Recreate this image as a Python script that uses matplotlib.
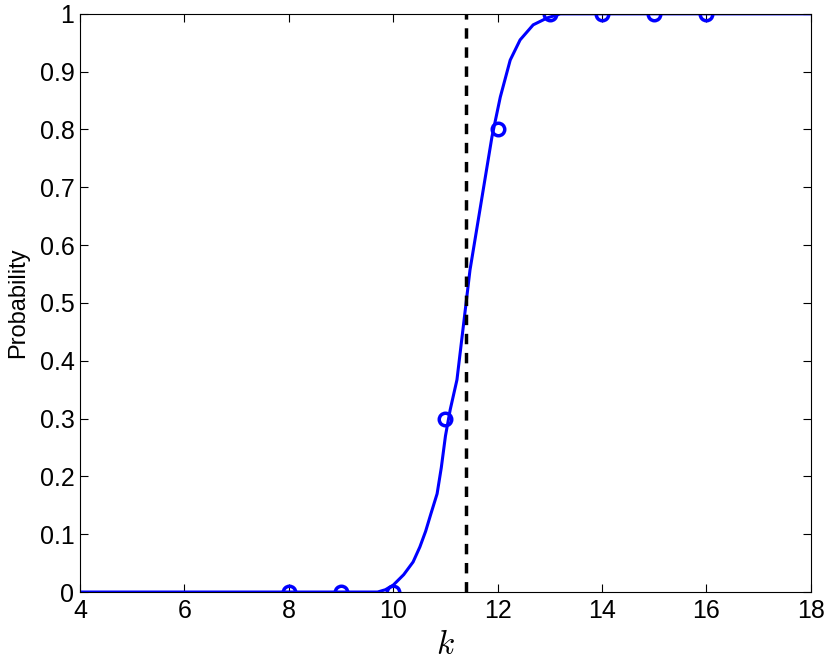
import matplotlib
matplotlib.use("Agg")
import matplotlib.pyplot as plt

plt.rcParams["font.family"] = ["Liberation Sans", "DejaVu Sans"]
plt.rcParams["mathtext.fontset"] = "cm"

# fitted curve
curve_k = [4, 9.7, 9.85, 10.0, 10.2, 10.38, 10.51, 10.62, 10.72, 10.84, 10.92,
           11.0, 11.09, 11.22, 11.34, 11.47, 11.66, 11.89, 12.05, 12.24, 12.43,
           12.68, 12.95, 13.2, 18]
curve_p = [0, 0, 0.004, 0.012, 0.03, 0.052, 0.078, 0.105, 0.135, 0.17, 0.215,
           0.27, 0.315, 0.367, 0.458, 0.557, 0.661, 0.787, 0.856, 0.92, 0.955,
           0.981, 0.993, 1.0, 1.0]

# observed points
obs_k = [8, 9, 10, 11, 12, 13, 14, 15, 16]
obs_p = [0, 0, 0, 0.3, 0.8, 1, 1, 1, 1]

threshold_k = 11.4

fig = plt.figure(figsize=(8.3, 6.6), dpi=100)
ax = fig.add_axes([0.0964, 0.103, 0.8806, 0.876])

ax.plot(curve_k, curve_p, color="#0000ff", lw=2.2)
ax.plot(obs_k, obs_p, "o", color="#0000ff", mfc="none", ms=9, mew=2.5)
ax.axvline(threshold_k, color="black", lw=2.5, ls=(0, (3, 2.5)))

ax.set_xlim(4, 18)
ax.set_ylim(0, 1)
ax.set_xticks(range(4, 19, 2))
ax.set_yticks([i / 10 for i in range(11)])
ax.set_yticklabels(["0"] + [f"{i / 10:.1f}" for i in range(1, 10)] + ["1"])
ax.tick_params(direction="in", top=True, right=True, labelsize=18, length=6)
ax.tick_params(axis="x", pad=5)
ax.tick_params(axis="y", pad=4)
ax.set_xlabel("$k$", fontsize=24, labelpad=5)
ax.set_ylabel("Probability", fontsize=17)
ax.yaxis.set_label_coords(-0.07, 0.5)

fig.savefig("out.png", dpi=100)
